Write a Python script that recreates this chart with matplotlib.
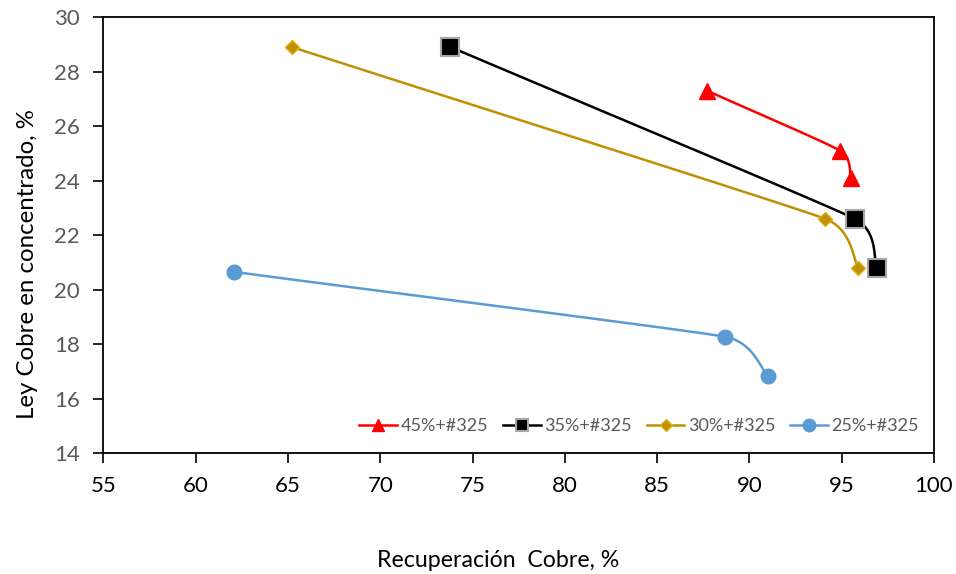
import numpy as np
import matplotlib
matplotlib.use("Agg")
import matplotlib.pyplot as plt
from matplotlib.lines import Line2D

# Recuperación (%) vs ley de cobre en concentrado (%) por condición de molienda
labels = ["45%+#325", "35%+#325", "30%+#325", "25%+#325"]
rec_45 = [87.7, 94.9, 95.5]
ley_45 = [27.3, 25.1, 24.1]
rec_35 = [73.8, 95.7, 96.9]
ley_35 = [28.9, 22.6, 20.8]
rec_30 = [65.2, 94.1, 95.9]
ley_30 = [28.9, 22.6, 20.8]
rec_25 = [62.1, 88.7, 91.0]
ley_25 = [20.65, 18.27, 16.84]

x_ticks = [55, 60, 65, 70, 75, 80, 85, 90, 95, 100]
y_ticks = [14, 16, 18, 20, 22, 24, 26, 28, 30]

plt.rcParams["font.family"] = ["Lato", "DejaVu Sans"]

fig = plt.figure(figsize=(9.56, 5.74), dpi=100)
ax = fig.add_axes([0.1081, 0.2103, 0.977 - 0.1081, 0.9704 - 0.2103])
ax.set_xlim(55, 100)
ax.set_ylim(14, 30)


def smooth(xs, ys, n=60, k=0.5):
    """Bezier smoothing through the points, computed in display space.
    Tangent direction comes from the neighbours, its length from the
    shorter adjacent segment, so long runs stay almost straight."""
    pts = ax.transData.transform(np.column_stack([xs, ys]))
    m = len(pts)
    seglen = np.hypot(*np.diff(pts, axis=0).T)
    tang = np.zeros_like(pts)
    mag = np.zeros(m)
    for i in range(m):
        a = pts[max(i - 1, 0)]
        b = pts[min(i + 1, m - 1)]
        d = b - a
        tang[i] = d / np.hypot(*d)
        near = [seglen[j] for j in (i - 1, i) if 0 <= j < m - 1]
        mag[i] = k * min(near)
    t = np.linspace(0, 1, n)[:, None]
    out = []
    for i in range(m - 1):
        p0, p1 = pts[i], pts[i + 1]
        L = seglen[i]
        m0 = mag[i] if i > 0 else L / 3
        m1 = mag[i + 1] if i + 1 < m - 1 else L / 6
        c1 = p0 + tang[i] * m0
        c2 = p1 - tang[i + 1] * m1
        seg = ((1 - t) ** 3) * p0 + 3 * ((1 - t) ** 2) * t * c1 + 3 * (1 - t) * t ** 2 * c2 + t ** 3 * p1
        out.append(seg if i == 0 else seg[1:])
    out = np.vstack(out)
    dd = ax.transData.inverted().transform(out)
    return dd[:, 0], dd[:, 1]


series = [
    (rec_45, ley_45, dict(color="#FF0000", marker="^", ms=12, mfc="#FF0000", mec="#FF0000", mew=1, lms=8)),
    (rec_35, ley_35, dict(color="#000000", marker="s", ms=12.5, mfc="#000000", mec="#A6A6A6", mew=1.5, lms=9)),
    (rec_30, ley_30, dict(color="#BF9000", marker="D", ms=7, mfc="#BF9000", mec="#E0AE10", mew=1, lms=6)),
    (rec_25, ley_25, dict(color="#5B9BD5", marker="o", ms=10.5, mfc="#5B9BD5", mec="#5B9BD5", mew=1, lms=9)),
]

handles = []
for (xs, ys, st), lab in zip(series, labels):
    sx, sy = smooth(xs, ys)
    ax.plot(sx, sy, color=st["color"], lw=1.8, solid_capstyle="round", zorder=2)
    ax.plot(xs, ys, ls="none", marker=st["marker"], ms=st["ms"], mfc=st["mfc"],
            mec=st["mec"], mew=st["mew"], zorder=3)
    handles.append(Line2D([], [], color=st["color"], lw=1.8, marker=st["marker"],
                          ms=st["lms"], mfc=st["mfc"], mec=st["mec"], mew=st["mew"]))

ax.set_xticks(x_ticks)
ax.set_yticks(y_ticks)
ax.tick_params(axis="x", direction="out", length=7, width=1.2, labelsize=16, colors="#000000", pad=9)
ax.tick_params(axis="y", direction="out", length=7, width=1.2, labelsize=16, labelcolor="#595959", pad=10)
for s in ax.spines.values():
    s.set_linewidth(1.3)
    s.set_color("#000000")

ax.set_xlabel("Recuperación  Cobre, %", fontsize=16.7, color="#000000")
ax.xaxis.set_label_coords(0.475, -0.2446)
ax.xaxis.label.set_verticalalignment("center")
ax.set_ylabel("Ley Cobre en concentrado, %", fontsize=17.3, color="#000000")
ax.yaxis.set_label_coords(-0.0919, 0.434)
ax.yaxis.label.set_verticalalignment("center")

leg = ax.legend(handles, labels, loc="center right", bbox_to_anchor=(0.982, 0.062), ncol=4,
                frameon=False, fontsize=13, handlelength=2.1, handletextpad=0.2,
                columnspacing=0.8, labelcolor="#595959", borderaxespad=0, borderpad=0)

fig.savefig("out.png", dpi=100)
